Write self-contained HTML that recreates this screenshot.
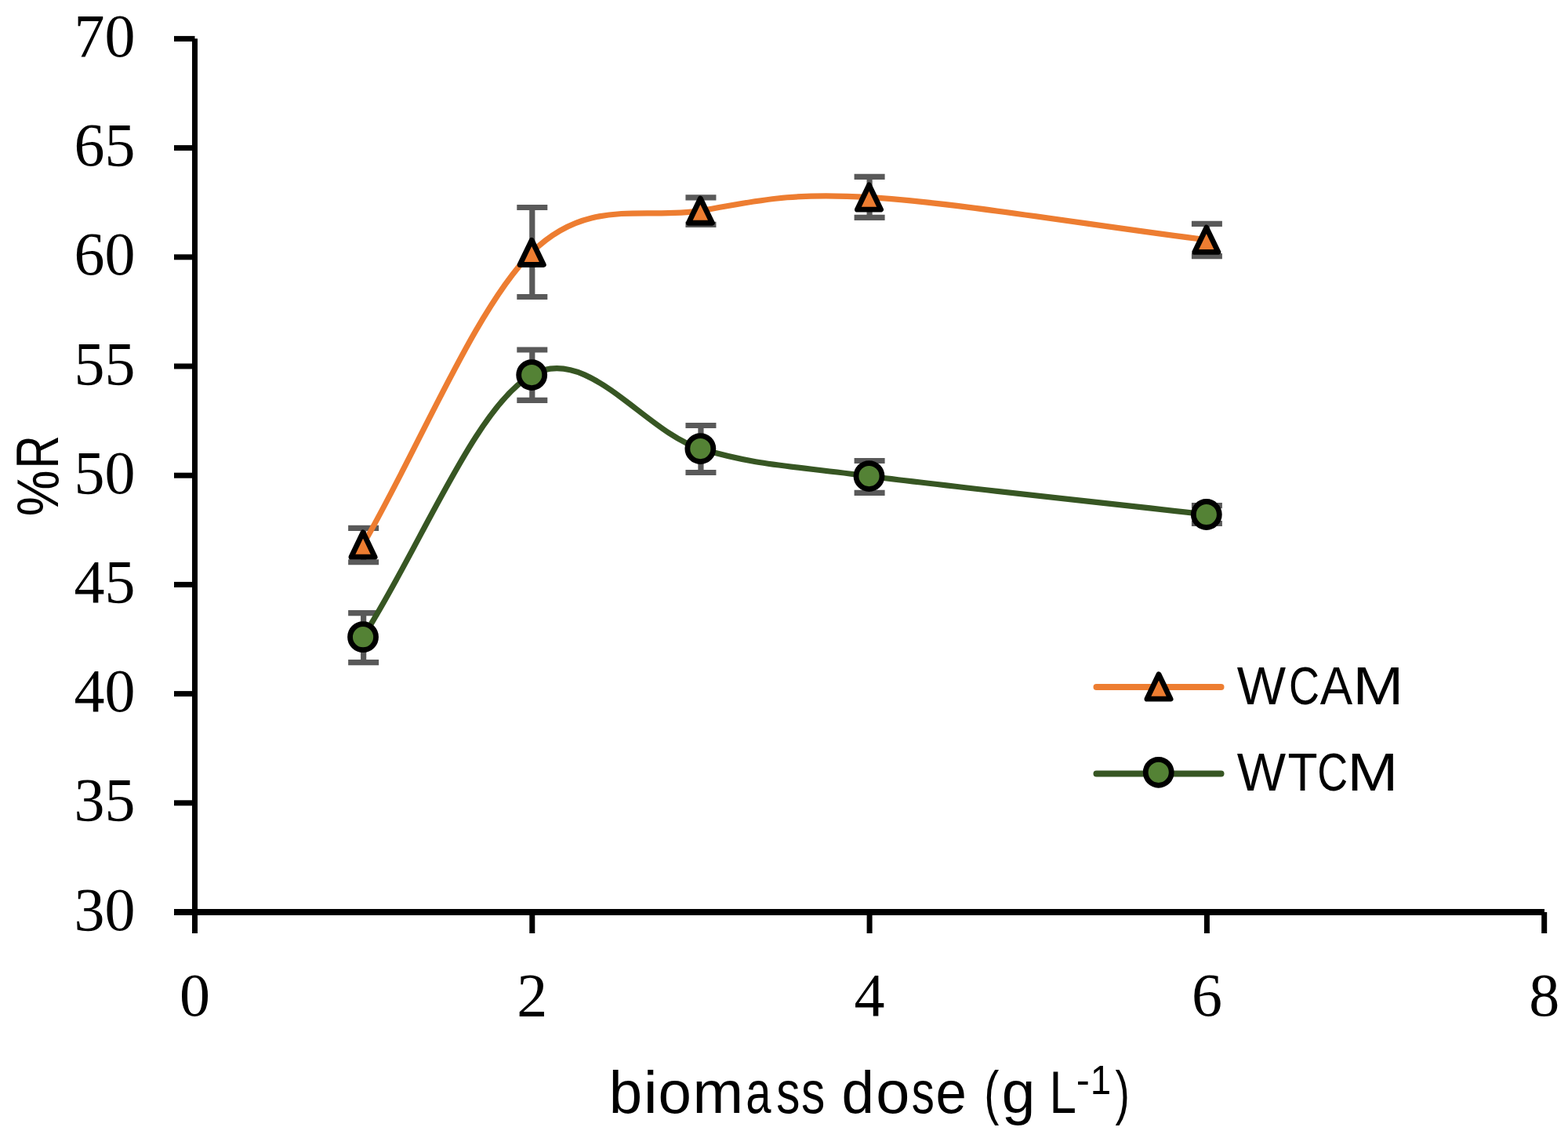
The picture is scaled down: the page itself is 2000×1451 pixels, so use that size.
<!DOCTYPE html>
<html><head><meta charset="utf-8"><title>biomass dose chart</title>
<style>html,body{margin:0;padding:0;background:#fff;overflow:hidden}svg{display:block}</style>
</head><body>
<svg width="2000" height="1451" viewBox="0 0 2000 1451"><g stroke="#000" stroke-width="7" fill="none">
<path d="M248.50 49.35 V1163"/>
<path d="M222 1163.00 H1970" stroke-width="8"/>
<path d="M222 1163.00 H248.50"/>
<path d="M222 1023.80 H248.50"/>
<path d="M222 884.60 H248.50"/>
<path d="M222 745.40 H248.50"/>
<path d="M222 606.20 H248.50"/>
<path d="M222 467.00 H248.50"/>
<path d="M222 327.80 H248.50"/>
<path d="M222 188.60 H248.50"/>
<path d="M222 49.40 H248.50"/>
<path d="M248.50 1163 V1190"/>
<path d="M678.80 1163 V1190"/>
<path d="M1109.10 1163 V1190"/>
<path d="M1539.40 1163 V1190"/>
<path d="M1969.70 1163 V1190"/>
</g>
<g font-family="Liberation Serif, serif" font-size="78" fill="#000">
<text x="172.5" y="1185.60" text-anchor="end">30</text>
<text x="172.5" y="1046.40" text-anchor="end">35</text>
<text x="172.5" y="907.20" text-anchor="end">40</text>
<text x="172.5" y="768.00" text-anchor="end">45</text>
<text x="172.5" y="628.80" text-anchor="end">50</text>
<text x="172.5" y="489.60" text-anchor="end">55</text>
<text x="172.5" y="350.40" text-anchor="end">60</text>
<text x="172.5" y="211.20" text-anchor="end">65</text>
<text x="172.5" y="72.00" text-anchor="end">70</text>
<text x="248.50" y="1294.7" text-anchor="middle">0</text>
<text x="678.80" y="1294.7" text-anchor="middle">2</text>
<text x="1109.10" y="1294.7" text-anchor="middle">4</text>
<text x="1539.40" y="1294.7" text-anchor="middle">6</text>
<text x="1969.70" y="1294.7" text-anchor="middle">8</text>
</g>
<path d="M463.65 673.35 V716.75 M444.15 673.35 H483.15 M444.15 716.75 H483.15" stroke="#595959" stroke-width="7.20" fill="none"/>
<path d="M678.80 264.50 V378.50 M659.30 264.50 H698.30 M659.30 378.50 H698.30" stroke="#595959" stroke-width="7.20" fill="none"/>
<path d="M893.95 251.85 V286.45 M874.45 251.85 H913.45 M874.45 286.45 H913.45" stroke="#595959" stroke-width="7.20" fill="none"/>
<path d="M1109.10 225.40 V277.40 M1089.60 225.40 H1128.60 M1089.60 277.40 H1128.60" stroke="#595959" stroke-width="7.20" fill="none"/>
<path d="M1539.40 285.40 V326.60 M1519.90 285.40 H1558.90 M1519.90 326.60 H1558.90" stroke="#595959" stroke-width="7.20" fill="none"/>
<path d="M463.65 781.55 V844.55 M444.15 781.55 H483.15 M444.15 844.55 H483.15" stroke="#595959" stroke-width="7.20" fill="none"/>
<path d="M678.80 446.00 V510.40 M659.30 446.00 H698.30 M659.30 510.40 H698.30" stroke="#595959" stroke-width="7.20" fill="none"/>
<path d="M893.95 542.50 V602.50 M874.45 542.50 H913.45 M874.45 602.50 H913.45" stroke="#595959" stroke-width="7.20" fill="none"/>
<path d="M1109.10 587.50 V628.40 M1089.60 587.50 H1128.60 M1089.60 628.40 H1128.60" stroke="#595959" stroke-width="7.20" fill="none"/>
<path d="M1539.40 644.70 V667.50 M1519.90 644.70 H1558.90 M1519.90 667.50 H1558.90" stroke="#595959" stroke-width="7.20" fill="none"/>
<path d="M463.05 694.50 C534.77 570.28 606.48 392.83 678.20 321.85 C749.92 250.87 821.63 280.32 893.35 268.60 C965.07 256.88 1000.92 245.35 1108.50 251.55 C1216.08 257.75 1395.37 287.72 1538.80 305.80" fill="none" stroke="#ED7D31" stroke-width="7.2" stroke-linecap="round" stroke-linejoin="round"/>
<path d="M463.05 812.15 C534.77 700.78 606.48 518.07 678.20 478.05 C749.92 438.03 821.63 550.55 893.35 572.05 C965.07 593.55 1000.92 593.06 1108.50 607.05 C1216.08 621.04 1395.37 639.68 1538.80 656.00" fill="none" stroke="#375623" stroke-width="7.2" stroke-linecap="round" stroke-linejoin="round"/>
<path d="M463.05 678.85 L478.15 710.15 L447.95 710.15 Z" fill="#ED7D31" stroke="#000" stroke-width="6.80" stroke-linejoin="round"/>
<path d="M678.20 306.20 L693.30 337.50 L663.10 337.50 Z" fill="#ED7D31" stroke="#000" stroke-width="6.80" stroke-linejoin="round"/>
<path d="M893.35 252.95 L908.45 284.25 L878.25 284.25 Z" fill="#ED7D31" stroke="#000" stroke-width="6.80" stroke-linejoin="round"/>
<path d="M1108.50 235.90 L1123.60 267.20 L1093.40 267.20 Z" fill="#ED7D31" stroke="#000" stroke-width="6.80" stroke-linejoin="round"/>
<path d="M1538.80 290.15 L1553.90 321.45 L1523.70 321.45 Z" fill="#ED7D31" stroke="#000" stroke-width="6.80" stroke-linejoin="round"/>
<circle cx="463.05" cy="812.15" r="16.50" fill="#548235" stroke="#000" stroke-width="6.80"/>
<circle cx="678.20" cy="478.05" r="16.50" fill="#548235" stroke="#000" stroke-width="6.80"/>
<circle cx="893.35" cy="572.05" r="16.50" fill="#548235" stroke="#000" stroke-width="6.80"/>
<circle cx="1108.50" cy="607.05" r="16.50" fill="#548235" stroke="#000" stroke-width="6.80"/>
<circle cx="1538.80" cy="656.00" r="16.50" fill="#548235" stroke="#000" stroke-width="6.80"/>
<path d="M1398.5 876 H1557.5" stroke="#ED7D31" stroke-width="8" stroke-linecap="round"/>
<path d="M1478.00 859.85 L1493.10 891.15 L1462.90 891.15 Z" fill="#ED7D31" stroke="#000" stroke-width="6.80" stroke-linejoin="round"/>
<path d="M1398.5 986.5 H1557.5" stroke="#375623" stroke-width="8" stroke-linecap="round"/>
<circle cx="1477.70" cy="984.80" r="16.50" fill="#548235" stroke="#000" stroke-width="6.80"/>
<g font-family="Liberation Sans, sans-serif" font-size="69" fill="#000">
<text y="897.7"><tspan x="1577.76" textLength="62.37" lengthAdjust="spacingAndGlyphs">W</tspan><tspan x="1644.06" textLength="39.00" lengthAdjust="spacingAndGlyphs">C</tspan><tspan x="1683.68" textLength="41.44" lengthAdjust="spacingAndGlyphs">A</tspan><tspan x="1725.52" textLength="64.75" lengthAdjust="spacingAndGlyphs">M</tspan></text>
<text y="1007.7"><tspan x="1577.76" textLength="62.37" lengthAdjust="spacingAndGlyphs">W</tspan><tspan x="1642.40" textLength="38.03" lengthAdjust="spacingAndGlyphs">T</tspan><tspan x="1680.17" textLength="38.89" lengthAdjust="spacingAndGlyphs">C</tspan><tspan x="1718.62" textLength="64.75" lengthAdjust="spacingAndGlyphs">M</tspan></text>
</g>
<text y="1418.6" font-family="Liberation Sans, sans-serif" font-size="76"><tspan x="776.68" textLength="42.42" lengthAdjust="spacingAndGlyphs">b</tspan><tspan x="820.70" textLength="17.95" lengthAdjust="spacingAndGlyphs">i</tspan><tspan x="839.60" textLength="42.40" lengthAdjust="spacingAndGlyphs">o</tspan><tspan x="883.54" textLength="64.67" lengthAdjust="spacingAndGlyphs">m</tspan><tspan x="951.14" textLength="32.26" lengthAdjust="spacingAndGlyphs">a</tspan><tspan x="990.22" textLength="30.16" lengthAdjust="spacingAndGlyphs">s</tspan><tspan x="1022.11" textLength="30.27" lengthAdjust="spacingAndGlyphs">s</tspan><tspan> </tspan><tspan x="1073.56" textLength="41.55" lengthAdjust="spacingAndGlyphs">d</tspan><tspan x="1117.24" textLength="43.11" lengthAdjust="spacingAndGlyphs">o</tspan><tspan x="1162.68" textLength="29.13" lengthAdjust="spacingAndGlyphs">s</tspan><tspan x="1193.49" textLength="39.35" lengthAdjust="spacingAndGlyphs">e</tspan><tspan> </tspan><tspan x="1255.34" textLength="19.09" lengthAdjust="spacingAndGlyphs">(</tspan><tspan x="1277.78" textLength="42.67" lengthAdjust="spacingAndGlyphs">g</tspan><tspan> </tspan><tspan x="1338.62" textLength="34.43" lengthAdjust="spacingAndGlyphs">L</tspan><tspan y="1394.5" font-size="52"><tspan x="1372.71" textLength="17.19" lengthAdjust="spacingAndGlyphs">-</tspan><tspan x="1390.78" textLength="26.44" lengthAdjust="spacingAndGlyphs">1</tspan></tspan><tspan y="1418.6"><tspan x="1422.38" textLength="18.34" lengthAdjust="spacingAndGlyphs">)</tspan></tspan></text>
<text transform="translate(74.1 660) rotate(-90)" y="0" font-family="Liberation Sans, sans-serif" font-size="76"><tspan x="1.75" textLength="58.71" lengthAdjust="spacingAndGlyphs">%</tspan><tspan x="62.38" textLength="42.45" lengthAdjust="spacingAndGlyphs">R</tspan></text></svg>
</body></html>
